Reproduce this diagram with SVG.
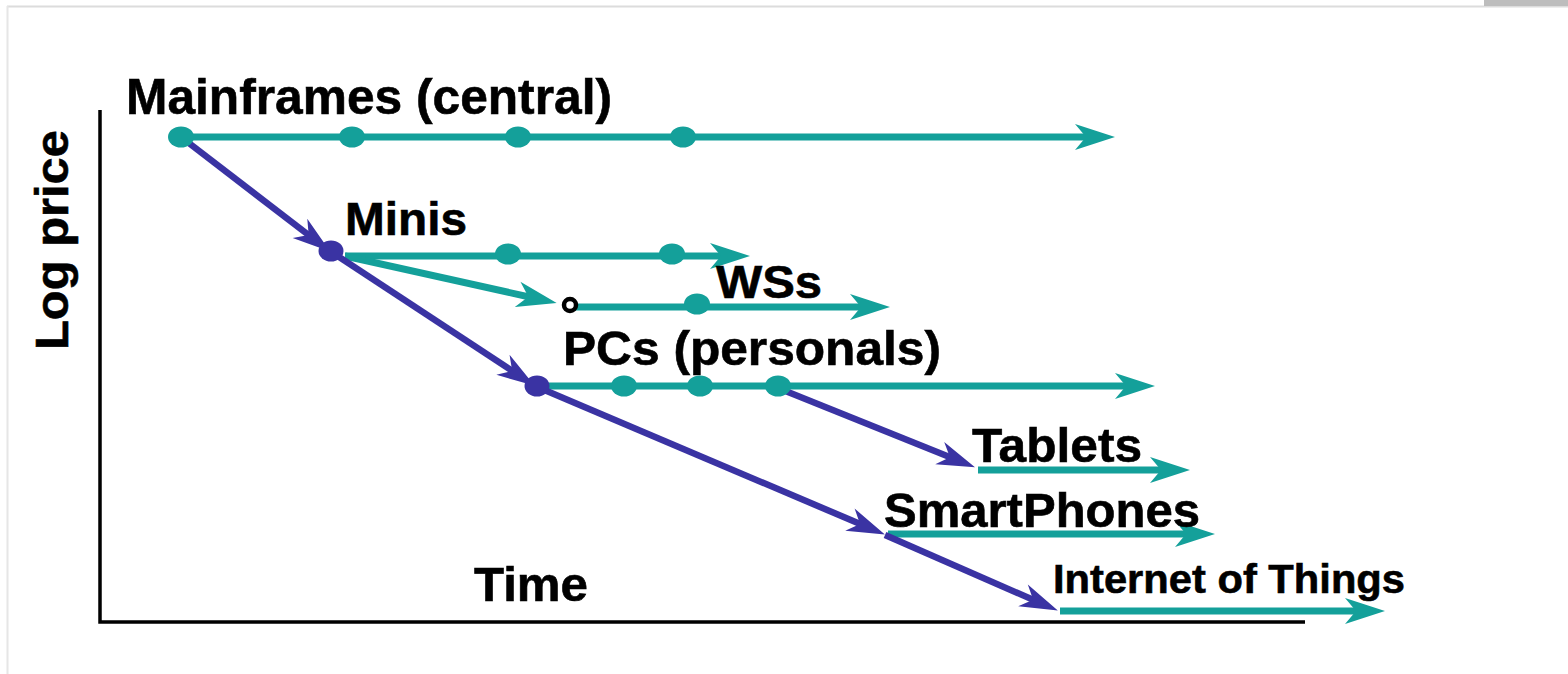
<svg xmlns="http://www.w3.org/2000/svg" width="1568" height="674" viewBox="0 0 1568 674">
<style>
.lbl{font-family:"Liberation Sans",Arial,sans-serif;font-weight:bold;fill:#000;stroke:#000;stroke-width:0.6;}
.teal{stroke:#14A09A;stroke-width:7;fill:none;}
.blue{stroke:#3A33A3;stroke-width:6.5;fill:none;}
.tdot{fill:#14A09A;}
.bdot{fill:#3A33A3;}
</style>
<defs>
<marker id="ta" viewBox="-42 -14 44 28" markerWidth="44" markerHeight="28" refX="-14" refY="0" orient="auto" markerUnits="userSpaceOnUse">
<path d="M0,0 L-40,-13 L-29,0 L-40,13 Z" fill="#14A09A"/>
</marker>
<marker id="ba" viewBox="-42 -14 44 28" markerWidth="44" markerHeight="28" refX="-14" refY="0" orient="auto" markerUnits="userSpaceOnUse">
<path d="M0,0 L-38,-12 L-27,0 L-38,12 Z" fill="#3A33A3"/>
</marker>
</defs>
<rect width="1568" height="674" fill="#fff"/>
<g id="frame">
<line x1="7" y1="6.5" x2="1568" y2="6.5" stroke="#dcdcdc" stroke-width="2"/>
<line x1="7.5" y1="6" x2="7.5" y2="674" stroke="#e6e6e6" stroke-width="2"/>
<rect x="1484" y="0" width="84" height="6" fill="#bdbdbd"/>
</g>
<g id="axes">
<polyline points="100,110 100,622 1305,622" fill="none" stroke="#000" stroke-width="3.5"/>
<text class="lbl" font-size="47" transform="translate(68,350) rotate(-90)" textLength="220" lengthAdjust="spacingAndGlyphs">Log price</text>
<text class="lbl" x="474" y="601" font-size="48" textLength="114" lengthAdjust="spacingAndGlyphs">Time</text>
</g>
<g id="connectors">
<line class="teal" x1="181" y1="137" x2="1101" y2="137" marker-end="url(#ta)"/>
<line class="teal" x1="345" y1="256" x2="736" y2="256" marker-end="url(#ta)"/>
<line class="teal" x1="345" y1="256" x2="543" y2="300" marker-end="url(#ta)"/>
<line class="teal" x1="575" y1="307" x2="876" y2="307" marker-end="url(#ta)"/>
<line class="teal" x1="545" y1="386" x2="1141" y2="386" marker-end="url(#ta)"/>
<line class="teal" x1="978" y1="470" x2="1176" y2="470" marker-end="url(#ta)"/>
<line class="teal" x1="888" y1="534" x2="1201" y2="534" marker-end="url(#ta)"/>
<line class="teal" x1="1060" y1="611" x2="1371" y2="611" marker-end="url(#ta)"/>
<line class="blue" x1="181" y1="137" x2="319" y2="243" marker-end="url(#ba)"/>
<line class="blue" x1="330" y1="251" x2="523" y2="378" marker-end="url(#ba)"/>
<line class="blue" x1="535" y1="386" x2="872" y2="529" marker-end="url(#ba)"/>
<line class="blue" x1="885" y1="535" x2="1045" y2="605" marker-end="url(#ba)"/>
<line class="blue" x1="778" y1="388" x2="962" y2="462" marker-end="url(#ba)"/>
</g>
<g id="mainframes">
<text class="lbl" x="126" y="114" font-size="50" textLength="486" lengthAdjust="spacingAndGlyphs">Mainframes (central)</text>
<ellipse class="tdot" cx="181" cy="137" rx="13" ry="10.5"/>
<ellipse class="tdot" cx="352" cy="137" rx="13" ry="10.5"/>
<ellipse class="tdot" cx="518" cy="137" rx="13" ry="10.5"/>
<ellipse class="tdot" cx="683" cy="137" rx="13" ry="10.5"/>
</g>
<g id="minis">
<text class="lbl" x="345" y="235" font-size="47" textLength="122" lengthAdjust="spacingAndGlyphs">Minis</text>
<ellipse class="bdot" cx="331" cy="251" rx="12.5" ry="10.5"/>
<ellipse class="tdot" cx="508" cy="254" rx="13" ry="10.5"/>
<ellipse class="tdot" cx="672" cy="254" rx="13" ry="10.5"/>
</g>
<g id="wss">
<text class="lbl" x="716" y="298" font-size="46" textLength="106" lengthAdjust="spacingAndGlyphs">WSs</text>
<circle cx="570" cy="305" r="6" fill="#fff" stroke="#000" stroke-width="4.5"/>
<ellipse class="tdot" cx="697" cy="304" rx="13" ry="10.5"/>
</g>
<g id="pcs">
<text class="lbl" x="563" y="365" font-size="48" textLength="378" lengthAdjust="spacingAndGlyphs">PCs (personals)</text>
<ellipse class="bdot" cx="537" cy="386" rx="12.5" ry="10.5"/>
<ellipse class="tdot" cx="624" cy="386" rx="13" ry="10.5"/>
<ellipse class="tdot" cx="700" cy="386" rx="13" ry="10.5"/>
<ellipse class="tdot" cx="778" cy="386" rx="13" ry="10.5"/>
</g>
<g id="tablets">
<text class="lbl" x="972" y="462" font-size="48" textLength="170" lengthAdjust="spacingAndGlyphs">Tablets</text>
</g>
<g id="smartphones">
<text class="lbl" x="884" y="527" font-size="48" textLength="316" lengthAdjust="spacingAndGlyphs">SmartPhones</text>
</g>
<g id="iot">
<text class="lbl" x="1053" y="593" font-size="41" textLength="352" lengthAdjust="spacingAndGlyphs">Internet of Things</text>
</g>
</svg>
